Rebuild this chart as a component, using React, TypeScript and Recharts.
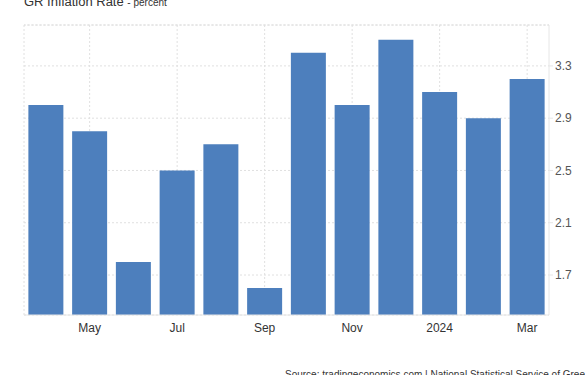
import React from "react";
import { Bar, BarChart, CartesianGrid, ReferenceLine, XAxis, YAxis } from "recharts";

const months = ["Apr", "May", "Jun", "Jul", "Aug", "Sep", "Oct", "Nov", "Dec", "2024", "Feb", "Mar"];
const inflation = [3.0, 2.8, 1.8, 2.5, 2.7, 1.6, 3.4, 3.0, 3.5, 3.1, 2.9, 3.2];
const yTicks = [1.7, 2.1, 2.5, 2.9, 3.3];
const labelledMonths = ["May", "Jul", "Sep", "Nov", "2024", "Mar"];
const yDomain = [1.394, 3.613];

const data = months.map((m, i) => ({ month: m, value: inflation[i] }));

const font = "'Liberation Sans', Arial, sans-serif";
const gridColor = "#e0e0e0";

const App = () => {
  return (
    <div style={{ position: "absolute", left: 0, top: 0, width: 585, height: 375, background: "#fff", overflow: "hidden" }}>
      <div style={{ position: "absolute", left: 24, top: -6, fontFamily: font, color: "#333", fontSize: 13, whiteSpace: "nowrap" }}>
        GR Inflation Rate <span style={{ fontSize: 10 }}>- percent</span>
      </div>
      <BarChart
        width={585}
        height={375}
        data={data}
        margin={{ top: 25, right: 0, left: 24, bottom: 0 }}
        barCategoryGap="10%"
      >
        <CartesianGrid stroke={gridColor} strokeDasharray="2 2" vertical={false} />
        {labelledMonths.map((m) => (
          <ReferenceLine key={m} x={m} stroke={gridColor} strokeDasharray="2 2" zIndex={-100} />
        ))}
        <ReferenceLine x="Apr" position="start" stroke={gridColor} strokeDasharray="2 2" zIndex={-100} />
        <ReferenceLine y={yDomain[1]} stroke={gridColor} strokeDasharray="2 2" zIndex={-100} />
        <XAxis
          dataKey="month"
          height={60}
          interval={0}
          tickLine={false}
          axisLine={{ stroke: "#e6e6e6" }}
          tick={{ fontSize: 12, fill: "#333", fontFamily: font }}
          tickFormatter={(v: string) => (labelledMonths.includes(v) ? v : "")}
          tickMargin={2}
        />
        <YAxis
          orientation="right"
          width={36}
          domain={yDomain}
          ticks={yTicks}
          allowDataOverflow
          axisLine={{ stroke: "#e6e6e6" }}
          tickLine={{ stroke: "#e6e6e6" }}
          tickSize={4}
          tick={{ fontSize: 12, fill: "#555", fontFamily: font }}
          tickFormatter={(v: number) => v.toFixed(1)}
        />
        <Bar dataKey="value" fill="#4d7fbd" isAnimationActive={false} />
      </BarChart>
      <div style={{ position: "absolute", left: 285, top: 369, fontFamily: font, color: "#333", fontSize: 10, whiteSpace: "nowrap" }}>
        Source: tradingeconomics.com | National Statistical Service of Greece
      </div>
    </div>
  );
};

export default App;
